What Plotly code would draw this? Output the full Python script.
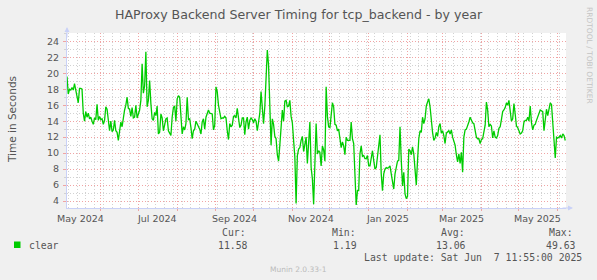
import pandas as pd
import plotly.graph_objects as go

# ---- data (daily values, starting 2024-05-05) ----
start_date = "2024-05-05"
end_date = "2025-06-07 14:00"

vals_may_jul = [19.6, 17.4, 18.0, 17.9, 18.2, 17.9, 18.7, 17.9, 17.5, 16.3,
                18.1, 18.1, 18.0, 15.0, 14.0, 15.2, 14.5, 15.0, 14.3, 14.5,
                14.0, 13.6, 14.4, 14.2, 16.1, 14.1, 14.6, 14.2, 14.3, 13.6,
                14.1, 15.8, 15.5, 14.0, 12.8, 14.0, 12.7, 12.9, 14.1, 12.8,
                12.6, 11.6, 12.6, 13.9, 13.3, 14.7, 15.4, 16.0, 17.0, 15.6,
                15.5, 14.6, 15.7, 14.4, 14.5, 16.0, 14.4, 14.9, 15.4, 16.6,
                21.2, 17.5, 18.4, 22.7]
vals_jul_sep = [15.8, 16.6, 19.1, 16.2, 14.3, 14.1, 15.1, 14.7, 15.9, 12.4,
                12.6, 14.9, 14.4, 12.8, 13.5, 14.3, 14.4, 12.8, 12.5, 12.2,
                14.5, 15.7, 15.9, 14.0, 16.8, 17.2, 17.0, 14.7, 12.4, 13.3,
                12.9, 13.7, 17.0, 14.2, 14.3, 13.2, 11.8, 12.8, 13.0, 14.0,
                13.7, 13.5, 13.0, 12.4, 13.9, 14.3, 13.0, 14.5, 15.0, 15.4,
                15.0, 14.9, 14.9, 12.9, 13.5, 18.3, 17.7, 16.0, 15.0, 14.3,
                14.4, 14.4, 14.6, 14.4, 12.8]
vals_sep_nov = [11.7, 13.7, 13.3, 13.5, 14.6, 14.7, 14.4, 15.6, 14.2, 13.2,
                13.5, 14.4, 14.4, 12.3, 13.9, 14.5, 13.0, 14.1, 14.4, 14.2,
                13.8, 14.3, 14.0, 12.8, 13.9, 15.0, 17.7, 16.0, 13.7, 15.8,
                19.8, 22.9, 21.0, 14.5, 11.0, 14.3, 13.6, 12.1, 11.8, 9.8,
                9.0, 11.0, 13.0, 15.4, 14.0, 16.5, 16.6, 15.8, 15.9, 16.6,
                14.6, 13.8, 11.6, 9.5, 3.7, 9.7, 10.5, 10.7, 11.6, 12.1,
                10.2, 11.3, 12.0, 8.7, 11.4, 13.9]
vals_nov_jan = [8.2, 6.8, 3.6, 8.6, 13.7, 9.9, 10.3, 10.1, 8.4, 10.9,
                10.4, 9.0, 18.3, 14.6, 13.3, 13.2, 15.4, 16.3, 15.8, 13.6,
                13.5, 12.8, 13.0, 11.6, 10.7, 11.4, 10.9, 9.8, 12.0, 11.6,
                11.6, 11.6, 13.9, 11.8, 11.2, 7.8, 3.5, 5.3, 5.3, 9.9,
                10.9, 9.6, 9.7, 9.3, 9.3, 9.7, 8.4, 8.4, 9.5, 10.3,
                9.1, 8.0, 8.2, 9.6, 10.5, 12.3, 7.4, 5.3, 7.4, 8.0,
                8.2, 8.1, 8.2, 8.4, 7.4, 6.1, 5.5]
vals_jan_apr = [7.4, 8.2, 9.0, 9.1, 13.3, 9.1, 5.9, 7.6, 4.9, 4.3,
                4.6, 10.5, 10.3, 9.8, 10.8, 9.9, 8.2, 6.0, 9.1, 11.8,
                12.8, 12.6, 14.5, 13.7, 14.3, 15.9, 16.4, 16.8, 15.8, 13.9,
                12.6, 11.6, 11.9, 12.6, 12.1, 13.3, 13.7, 12.5, 12.8, 12.2,
                11.2, 12.5, 12.6, 12.8, 12.4, 12.9, 12.0, 11.6, 11.0, 9.8,
                8.9, 9.9, 8.7, 10.1, 7.6, 12.0, 12.9, 13.0, 13.4, 13.9,
                14.5, 14.1, 13.8, 13.7, 12.8, 12.0]
vals_apr_jun = [11.8, 11.8, 11.2, 11.7, 11.8, 12.8, 13.5, 16.4, 15.4, 13.3,
                13.6, 13.4, 11.9, 12.8, 12.0, 11.9, 12.2, 13.1, 13.3, 14.2,
                15.2, 15.4, 15.7, 16.3, 16.0, 16.6, 15.4, 14.0, 14.3, 16.2,
                14.9, 13.4, 13.2, 12.8, 12.4, 12.5, 12.8, 13.9, 14.1, 14.1,
                14.5, 14.0, 15.9, 13.8, 12.9, 13.5, 13.6, 14.1, 14.5, 14.9,
                15.4, 15.3, 15.2, 12.8, 14.7, 15.5, 14.7, 15.8, 16.3, 16.1,
                13.5, 11.4, 9.4, 12.0, 11.9, 12.0, 12.2, 11.9, 12.4, 12.2,
                11.58]

label_months = ["2024-05-01", "2024-07-01", "2024-09-01", "2024-11-01",
                "2025-01-01", "2025-03-01", "2025-05-01"]
label_texts = ["May 2024", "Jul 2024", "Sep 2024", "Nov 2024",
               "Jan 2025", "Mar 2025", "May 2025"]
y_ticks = [4, 6, 8, 10, 12, 14, 16, 18, 20, 22, 24]

series_name = "clear"
stat_cur, stat_min, stat_avg, stat_max = "11.58", "1.19", "13.06", "49.63"

values = vals_may_jul + vals_jul_sep + vals_sep_nov + vals_nov_jan + vals_jan_apr + vals_apr_jun
dates = pd.date_range(start_date, periods=len(values), freq="D")

# ---- styling ----
W, H = 597, 280
L, R, T, B = 67, 31, 33, 72
PW, PH = W - L - R, H - T - B
BG = "#F0F0F0"
AXIS = "#C9D1F7"
MGRID = "#F0A4A4"
GRID = "#D2D2D2"
FONTC = "#555555"
SANS = "DejaVu Sans"
MONO = "DejaVu Sans Mono"


def px(xp):
    return (xp - L) / PW


def py(yp):
    return (T + PH - yp) / PH


month_starts = pd.date_range("2024-06-01", "2025-06-01", freq="MS")
week_starts = pd.date_range("2024-05-06", end_date, freq="7D")

fig = go.Figure()
fig.add_trace(go.Scatter(x=dates, y=values, mode="lines",
                         line=dict(color="#00CC00", width=1.3),
                         hoverinfo="skip", showlegend=False))

fig.update_layout(
    width=W, height=H,
    margin=dict(l=L, r=R, t=T, b=B, pad=0),
    paper_bgcolor=BG, plot_bgcolor="#FFFFFF",
    font=dict(family=SANS, color=FONTC, size=9.5),
    showlegend=False,
)

fig.update_xaxes(
    type="date", range=[start_date, end_date],
    tickmode="array", tickvals=month_starts, showticklabels=False,
    showgrid=True, gridcolor=MGRID, griddash="1px,2px", gridwidth=1,
    ticks="outside", ticklen=2, tickcolor=MGRID,
    minor=dict(tickmode="array", tickvals=week_starts, showgrid=True,
               gridcolor=GRID, griddash="1px,2px", gridwidth=1, ticks=""),
    showline=True, linecolor=AXIS, linewidth=1, zeroline=False,
)
fig.update_yaxes(
    range=[3.13, 25.04],
    tickmode="array", tickvals=y_ticks, ticktext=[str(v) for v in y_ticks],
    showgrid=True, gridcolor=MGRID, griddash="1px,2px", gridwidth=1,
    ticks="outside", ticklen=3, tickcolor=MGRID,
    ticklabelstandoff=2,
    tickfont=dict(family=SANS, size=9.5, color=FONTC),
    minor=dict(dtick=1, tick0=0, showgrid=True, gridcolor=GRID,
               griddash="1px,2px", gridwidth=1, ticks="outside", ticklen=2, tickcolor=GRID),
    showline=True, linecolor=AXIS, linewidth=1, zeroline=False,
)

ann = []
# month labels centred on each labelled month
for m, t in zip(label_months, label_texts):
    ann.append(dict(x=pd.Timestamp(m) + pd.Timedelta(days=15), y=0, xref="x", yref="paper",
                    text=t, showarrow=False, yanchor="top", yshift=-3,
                    font=dict(family=SANS, size=9.5, color=FONTC)))
# title
ann.append(dict(x=px(298.5), y=py(14), xref="paper", yref="paper", showarrow=False,
                text="HAProxy Backend Server Timing for tcp_backend - by year",
                font=dict(family=SANS, size=12.6, color=FONTC), xanchor="center", yanchor="middle"))
# y title
ann.append(dict(x=px(12), y=py(120), xref="paper", yref="paper", showarrow=False,
                text="Time in Seconds", textangle=-90,
                font=dict(family=SANS, size=10.5, color=FONTC), xanchor="center", yanchor="middle"))
# side credit
ann.append(dict(x=px(589), y=py(55), xref="paper", yref="paper", showarrow=False,
                text="RRDTOOL / TOBI OETIKER", textangle=90,
                font=dict(family=SANS, size=7.5, color="#C4C4C4"), xanchor="center", yanchor="middle"))
# legend rows
mono = dict(family=MONO, size=9.8, color=FONTC)
for xp, t in [(220, "Cur:"), (330, "Min:"), (438.5, "Avg:"), (547.4, "Max:")]:
    ann.append(dict(x=px(xp), y=py(232), xref="paper", yref="paper", showarrow=False,
                    text=t, font=mono, xanchor="left", yanchor="middle"))
ann.append(dict(x=px(26.6), y=py(245), xref="paper", yref="paper", showarrow=False,
                text=series_name, font=mono, xanchor="left", yanchor="middle"))
for xp, t in [(249.5, stat_cur), (358.6, stat_min), (468.2, stat_avg), (577.5, stat_max)]:
    ann.append(dict(x=px(xp), y=py(245), xref="paper", yref="paper", showarrow=False,
                    text=t, font=mono, xanchor="right", yanchor="middle"))
ann.append(dict(x=px(361.6), y=py(257.5), xref="paper", yref="paper", showarrow=False,
                text="Last update: Sat Jun  7 11:55:00 2025".replace("  ", "&nbsp; "),
                font=mono, xanchor="left", yanchor="middle"))
ann.append(dict(x=px(298.5), y=py(269), xref="paper", yref="paper", showarrow=False,
                text="Munin 2.0.33-1", font=dict(family=SANS, size=7.5, color="#BBBBBB"),
                xanchor="center", yanchor="middle"))
# axis arrows
ann.append(dict(x=px(573), y=0, xref="paper", yref="paper", ax=-12, ay=0, text="",
                showarrow=True, arrowhead=2, arrowsize=1, arrowwidth=1, arrowcolor=AXIS))
ann.append(dict(x=0, y=py(27), xref="paper", yref="paper", ax=0, ay=12, text="",
                showarrow=True, arrowhead=2, arrowsize=1, arrowwidth=1, arrowcolor=AXIS))
fig.update_layout(annotations=ann)

# legend swatch
fig.add_shape(type="rect", xref="paper", yref="paper",
              x0=px(14), x1=px(20.5), y0=py(248), y1=py(241.5),
              fillcolor="#00CC00", line=dict(width=0))

fig.write_html("out.html")
